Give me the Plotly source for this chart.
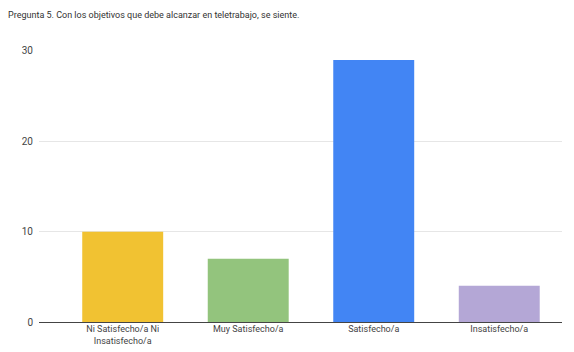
import plotly.graph_objects as go

categories = ["Ni Satisfecho/a Ni<br>Insatisfecho/a", "Muy Satisfecho/a", "Satisfecho/a", "Insatisfecho/a"]
counts = [10, 7, 29, 4]
colors = ["#f1c232", "#93c47d", "#4285f4", "#b4a7d6"]
y_ticks = [0, 10, 20, 30]

fig = go.Figure(
    go.Bar(
        x=list(range(len(categories))),
        y=counts,
        marker=dict(color=colors, line=dict(width=0)),
        hoverinfo="skip",
    )
)

fig.update_layout(
    width=574,
    height=352,
    margin=dict(l=39, r=12, t=50, b=30),
    paper_bgcolor="white",
    plot_bgcolor="white",
    bargap=0.355,
    showlegend=False,
    font=dict(family="Roboto, Arial, sans-serif", size=9, color="#555555"),
    title=dict(
        text="Pregunta 5. Con los objetivos que debe alcanzar en teletrabajo, se siente.",
        x=0.014,
        xanchor="left",
        y=0.957,
        yanchor="middle",
        font=dict(family="Roboto, Arial, sans-serif", size=9, color="#333333"),
    ),
)

fig.update_xaxes(
    tickmode="array",
    tickvals=list(range(len(categories))),
    ticktext=categories,
    range=[-0.667, 3.5],
    showgrid=False,
    showline=False,
    ticks="",
    automargin=False,
    tickfont=dict(size=9, color="#444444"),
    zeroline=False,
)

fig.update_yaxes(
    range=[0, 30.1],
    tickmode="array",
    tickvals=y_ticks,
    showgrid=True,
    gridcolor="#e6e6e6",
    gridwidth=1,
    zeroline=True,
    zerolinecolor="#444444",
    zerolinewidth=1,
    showline=False,
    ticks="",
    automargin=False,
    ticklabelstandoff=5,
    tickfont=dict(size=10, color="#444444"),
)

fig.write_html("out.html")
